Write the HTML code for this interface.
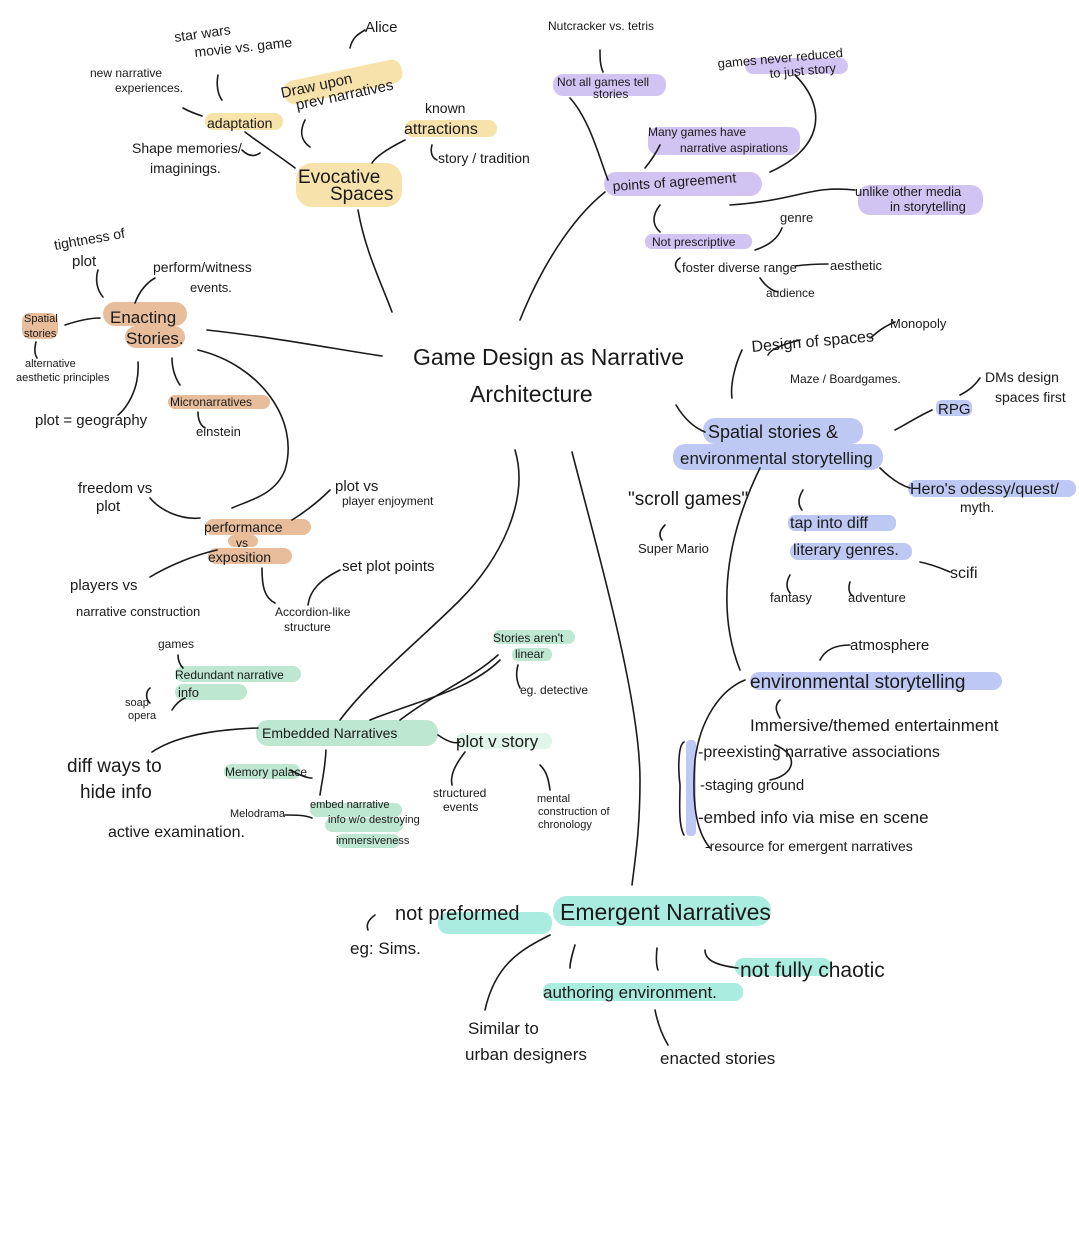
<!DOCTYPE html>
<html><head><meta charset="utf-8"><style>
html,body{margin:0;padding:0;background:#fff;}
svg{display:block}
text{font-family:"Liberation Sans",sans-serif;fill:#1a1a1a;}
</style></head><body>
<svg width="1079" height="1238" viewBox="0 0 1079 1238" xmlns="http://www.w3.org/2000/svg">
<rect width="1079" height="1238" fill="#fff"/>
<g opacity="0.75">
<!-- yellow -->
<rect x="283" y="70" width="120" height="24" rx="10" fill="#f6d98f" transform="rotate(-12 343 82)"/>
<rect x="205" y="113" width="78" height="17" rx="8" fill="#f6d98f"/>
<rect x="405" y="120" width="92" height="17" rx="8" fill="#f6d98f"/>
<rect x="296" y="163" width="106" height="44" rx="16" fill="#f6d98f"/>
<!-- purple -->
<rect x="553" y="74" width="113" height="22" rx="10" fill="#c2b0ee"/>
<rect x="745" y="58" width="103" height="16" rx="8" fill="#c2b0ee"/>
<rect x="648" y="127" width="152" height="28" rx="10" fill="#c2b0ee"/>
<rect x="604" y="172" width="158" height="24" rx="12" fill="#c2b0ee"/>
<rect x="858" y="185" width="125" height="30" rx="12" fill="#c2b0ee"/>
<rect x="645" y="234" width="107" height="15" rx="7" fill="#c2b0ee"/>
<!-- brown -->
<rect x="103" y="302" width="84" height="24" rx="12" fill="#e0a77b"/>
<rect x="125" y="326" width="60" height="22" rx="11" fill="#e0a77b"/>
<rect x="22" y="313" width="36" height="26" rx="8" fill="#e0a77b"/>
<rect x="168" y="395" width="102" height="14" rx="7" fill="#e0a77b"/>
<rect x="205" y="519" width="106" height="16" rx="8" fill="#e0a77b"/>
<rect x="228" y="535" width="30" height="12" rx="6" fill="#e0a77b"/>
<rect x="208" y="548" width="84" height="16" rx="8" fill="#e0a77b"/>
<!-- blue -->
<rect x="703" y="418" width="160" height="26" rx="12" fill="#a8b6f0"/>
<rect x="673" y="444" width="210" height="26" rx="12" fill="#a8b6f0"/>
<rect x="908" y="480" width="168" height="17" rx="8" fill="#a8b6f0"/>
<rect x="936" y="400" width="36" height="16" rx="6" fill="#a8b6f0"/>
<rect x="788" y="515" width="108" height="16" rx="7" fill="#a8b6f0"/>
<rect x="790" y="543" width="122" height="17" rx="8" fill="#a8b6f0"/>
<rect x="750" y="672" width="252" height="18" rx="9" fill="#a8b6f0"/>
<rect x="686" y="740" width="10" height="96" rx="4" fill="#a8b6f0"/>
<!-- green -->
<rect x="175" y="666" width="126" height="16" rx="8" fill="#a9dfc2"/>
<rect x="175" y="684" width="72" height="16" rx="8" fill="#a9dfc2"/>
<rect x="256" y="720" width="182" height="26" rx="12" fill="#a9dfc2"/>
<rect x="493" y="630" width="82" height="14" rx="7" fill="#a9dfc2"/>
<rect x="512" y="648" width="40" height="13" rx="6" fill="#a9dfc2"/>
<rect x="456" y="733" width="96" height="16" rx="7" fill="#d8f2e3"/>
<rect x="224" y="764" width="76" height="15" rx="7" fill="#a9dfc2"/>
<rect x="310" y="803" width="92" height="14" rx="7" fill="#a9dfc2"/>
<rect x="325" y="818" width="78" height="14" rx="7" fill="#a9dfc2"/>
<rect x="336" y="834" width="64" height="14" rx="7" fill="#a9dfc2"/>
<!-- teal -->
<rect x="553" y="896" width="218" height="30" rx="14" fill="#8fe6d6"/>
<rect x="438" y="912" width="114" height="22" rx="10" fill="#8fe6d6"/>
<rect x="735" y="958" width="96" height="18" rx="8" fill="#8fe6d6"/>
<rect x="543" y="983" width="200" height="18" rx="8" fill="#8fe6d6"/>
</g>
<g fill="none" stroke="#1a1a1a" stroke-width="1.6" stroke-linecap="round">
<path d="M358 210 C365 250 380 280 392 312"/>
<path d="M207 330 C280 338 340 350 382 356"/>
<path d="M520 320 C540 270 570 220 605 192"/>
<path d="M676 405 C685 420 695 428 705 432"/>
<path d="M515 450 C530 500 500 560 460 600 C420 640 370 680 340 720"/>
<path d="M572 452 C600 560 640 700 640 780 C640 830 635 860 632 885"/>
<path d="M350 48 C352 38 358 34 365 30"/>
<path d="M305 120 C300 130 300 140 310 147"/>
<path d="M218 75 C216 85 218 95 222 100"/>
<path d="M183 108 C190 112 196 114 202 116"/>
<path d="M245 132 C262 145 278 155 295 168"/>
<path d="M242 150 C247 155 253 158 260 153"/>
<path d="M405 140 C385 150 375 158 372 163"/>
<path d="M432 145 C430 152 432 158 437 160"/>
<path d="M600 50 C600 58 600 65 603 72"/>
<path d="M570 98 C590 120 600 160 608 180"/>
<path d="M795 75 C830 110 820 150 770 172"/>
<path d="M660 145 C655 155 650 162 645 168"/>
<path d="M730 205 C800 200 810 185 855 190"/>
<path d="M660 205 C652 215 652 225 660 232"/>
<path d="M755 250 C770 245 778 238 782 228"/>
<path d="M680 258 C674 262 674 268 680 272"/>
<path d="M795 266 C810 264 820 264 828 264"/>
<path d="M760 278 C765 285 770 290 778 292"/>
<path d="M98 270 C95 280 97 290 103 297"/>
<path d="M135 303 C140 290 148 282 155 278"/>
<path d="M65 325 C80 320 90 318 100 318"/>
<path d="M36 342 C34 350 35 355 37 358"/>
<path d="M138 362 C140 390 125 410 118 415"/>
<path d="M172 358 C172 368 175 378 180 385"/>
<path d="M198 350 C260 365 300 420 285 470 C275 495 250 500 232 508"/>
<path d="M198 412 C198 420 200 425 205 428"/>
<path d="M150 498 C160 510 180 520 200 518"/>
<path d="M217 550 C195 555 170 565 150 577"/>
<path d="M330 490 C315 505 300 515 292 520"/>
<path d="M340 570 C320 580 310 590 308 605"/>
<path d="M262 568 C262 588 265 598 275 603"/>
<path d="M800 340 C780 345 770 350 768 355"/>
<path d="M742 350 C735 365 730 385 732 398"/>
<path d="M895 322 C880 328 875 335 870 338"/>
<path d="M960 395 C970 390 975 385 980 378"/>
<path d="M932 410 C915 418 905 425 895 430"/>
<path d="M665 525 C660 530 658 535 662 540"/>
<path d="M880 468 C890 478 900 485 910 488"/>
<path d="M760 468 C720 550 720 620 740 670"/>
<path d="M803 490 C798 498 798 505 802 510"/>
<path d="M920 562 C935 565 945 570 950 572"/>
<path d="M790 575 C786 582 786 588 790 593"/>
<path d="M850 582 C848 588 849 594 853 596"/>
<path d="M820 660 C825 650 835 645 850 645"/>
<path d="M745 680 C720 690 700 720 695 760 C692 800 695 830 710 848"/>
<path d="M780 718 C775 710 775 705 780 700"/>
<path d="M775 745 C800 755 795 775 770 780"/>
<path d="M684 742 C678 745 678 770 680 785 C680 800 678 825 684 835"/>
<path d="M185 698 C180 700 175 705 172 710"/>
<path d="M178 655 C178 660 180 665 183 668"/>
<path d="M150 688 C145 692 146 700 150 703"/>
<path d="M258 728 C200 730 170 740 152 752"/>
<path d="M370 720 C420 700 470 690 500 660"/>
<path d="M400 720 C440 690 470 680 498 655"/>
<path d="M518 665 C516 672 516 680 520 688"/>
<path d="M438 735 C448 742 455 744 460 742"/>
<path d="M290 770 C300 775 306 778 312 778"/>
<path d="M326 750 C325 770 322 780 320 795"/>
<path d="M285 815 C295 815 305 815 312 818"/>
<path d="M465 752 C455 765 450 775 452 785"/>
<path d="M540 765 C545 770 548 775 550 790"/>
<path d="M375 915 C368 920 366 925 368 930"/>
<path d="M550 935 C520 950 495 965 485 1010"/>
<path d="M575 945 C572 955 570 962 570 968"/>
<path d="M657 948 C656 958 656 965 658 970"/>
<path d="M705 950 C705 960 715 965 738 968"/>
<path d="M655 1010 C658 1025 662 1035 668 1045"/>
</g>
<g font-size="14">
<text x="175" y="42" font-size="14" transform="rotate(-8 175 42)">star wars</text>
<text x="195" y="57" font-size="14" transform="rotate(-6 195 57)">movie vs. game</text>
<text x="365" y="32" font-size="15">Alice</text>
<text x="90" y="77" font-size="12">new narrative</text>
<text x="115" y="92" font-size="12">experiences.</text>
<text x="282" y="98" font-size="15" transform="rotate(-12 282 98)">Draw upon</text>
<text x="297" y="110" font-size="15" transform="rotate(-12 297 110)">prev narratives</text>
<text x="207" y="128" font-size="14">adaptation</text>
<text x="425" y="113" font-size="14">known</text>
<text x="404" y="134" font-size="16">attractions</text>
<text x="132" y="153" font-size="14">Shape memories/</text>
<text x="150" y="173" font-size="14">imaginings.</text>
<text x="438" y="163" font-size="14">story / tradition</text>
<text x="298" y="183" font-size="19">Evocative</text>
<text x="330" y="200" font-size="19">Spaces</text>
<text x="548" y="30" font-size="12">Nutcracker vs. tetris</text>
<text x="557" y="86" font-size="12">Not all games tell</text>
<text x="593" y="98" font-size="12">stories</text>
<text x="718" y="68" font-size="13" transform="rotate(-5 718 68)">games never reduced</text>
<text x="770" y="78" font-size="13" transform="rotate(-5 770 78)">to just story</text>
<text x="648" y="136" font-size="12">Many games have</text>
<text x="680" y="152" font-size="12">narrative aspirations</text>
<text x="613" y="191" font-size="14" transform="rotate(-4 613 191)">points of agreement</text>
<text x="855" y="196" font-size="13">unlike other media</text>
<text x="890" y="211" font-size="13">in storytelling</text>
<text x="780" y="222" font-size="13">genre</text>
<text x="652" y="246" font-size="12">Not prescriptive</text>
<text x="682" y="272" font-size="13">foster diverse range</text>
<text x="830" y="270" font-size="13">aesthetic</text>
<text x="766" y="297" font-size="12">audience</text>
<text x="55" y="250" font-size="14" transform="rotate(-10 55 250)">tightness of</text>
<text x="72" y="266" font-size="15">plot</text>
<text x="153" y="272" font-size="14">perform/witness</text>
<text x="190" y="292" font-size="13">events.</text>
<text x="24" y="322" font-size="11">Spatial</text>
<text x="24" y="337" font-size="11">stories</text>
<text x="110" y="323" font-size="17">Enacting</text>
<text x="126" y="344" font-size="17">Stories.</text>
<text x="25" y="367" font-size="11">alternative</text>
<text x="16" y="381" font-size="11">aesthetic principles</text>
<text x="35" y="425" font-size="15">plot = geography</text>
<text x="170" y="406" font-size="12">Micronarratives</text>
<text x="196" y="436" font-size="13">einstein</text>
<text x="413" y="365" font-size="23">Game Design as Narrative</text>
<text x="470" y="402" font-size="23">Architecture</text>
<text x="752" y="352" font-size="16" transform="rotate(-5 752 352)">Design of spaces</text>
<text x="890" y="328" font-size="13">Monopoly</text>
<text x="790" y="383" font-size="12">Maze / Boardgames.</text>
<text x="985" y="382" font-size="14">DMs design</text>
<text x="995" y="402" font-size="14">spaces first</text>
<text x="938" y="414" font-size="15">RPG</text>
<text x="708" y="438" font-size="18">Spatial stories &amp;</text>
<text x="680" y="464" font-size="17">environmental storytelling</text>
<text x="910" y="494" font-size="16">Hero's odessy/quest/</text>
<text x="960" y="512" font-size="14">myth.</text>
<text x="628" y="505" font-size="19">"scroll games"</text>
<text x="638" y="553" font-size="13">Super Mario</text>
<text x="790" y="528" font-size="16">tap into diff</text>
<text x="793" y="555" font-size="16">literary genres.</text>
<text x="950" y="578" font-size="16">scifi</text>
<text x="770" y="602" font-size="13">fantasy</text>
<text x="848" y="602" font-size="13">adventure</text>
<text x="78" y="493" font-size="15">freedom vs</text>
<text x="96" y="511" font-size="15">plot</text>
<text x="335" y="491" font-size="15">plot vs</text>
<text x="342" y="505" font-size="12">player enjoyment</text>
<text x="204" y="532" font-size="14">performance</text>
<text x="236" y="547" font-size="12">vs</text>
<text x="208" y="562" font-size="14">exposition</text>
<text x="342" y="571" font-size="15">set plot points</text>
<text x="70" y="590" font-size="15">players vs</text>
<text x="76" y="616" font-size="13">narrative construction</text>
<text x="275" y="616" font-size="12">Accordion-like</text>
<text x="284" y="631" font-size="12">structure</text>
<text x="850" y="650" font-size="15">atmosphere</text>
<text x="750" y="688" font-size="19">environmental storytelling</text>
<text x="750" y="731" font-size="17">Immersive/themed entertainment</text>
<text x="698" y="757" font-size="16">-preexisting narrative associations</text>
<text x="700" y="790" font-size="15">-staging ground</text>
<text x="698" y="823" font-size="17">-embed info via mise en scene</text>
<text x="705" y="851" font-size="14">-resource for emergent narratives</text>
<text x="158" y="648" font-size="12">games</text>
<text x="175" y="679" font-size="12">Redundant narrative</text>
<text x="178" y="697" font-size="13">info</text>
<text x="125" y="706" font-size="11">soap</text>
<text x="128" y="719" font-size="11">opera</text>
<text x="493" y="642" font-size="12">Stories aren't</text>
<text x="515" y="658" font-size="12">linear</text>
<text x="520" y="694" font-size="12">eg. detective</text>
<text x="262" y="738" font-size="14">Embedded Narratives</text>
<text x="456" y="747" font-size="17">plot v story</text>
<text x="67" y="772" font-size="19">diff ways to</text>
<text x="80" y="798" font-size="19">hide info</text>
<text x="225" y="776" font-size="12">Memory palace</text>
<text x="108" y="837" font-size="16">active examination.</text>
<text x="230" y="817" font-size="11">Melodrama</text>
<text x="310" y="808" font-size="11">embed narrative</text>
<text x="328" y="823" font-size="11">info w/o destroying</text>
<text x="336" y="844" font-size="11">immersiveness</text>
<text x="433" y="797" font-size="12">structured</text>
<text x="443" y="811" font-size="12">events</text>
<text x="537" y="802" font-size="11">mental</text>
<text x="538" y="815" font-size="11">construction of</text>
<text x="538" y="828" font-size="11">chronology</text>
<text x="395" y="920" font-size="20">not preformed</text>
<text x="350" y="954" font-size="17">eg: Sims.</text>
<text x="560" y="920" font-size="23">Emergent Narratives</text>
<text x="740" y="977" font-size="21">not fully chaotic</text>
<text x="543" y="998" font-size="17">authoring environment.</text>
<text x="468" y="1034" font-size="17">Similar to</text>
<text x="465" y="1060" font-size="17">urban designers</text>
<text x="660" y="1064" font-size="17">enacted stories</text>
</g>
</svg>
</body></html>
